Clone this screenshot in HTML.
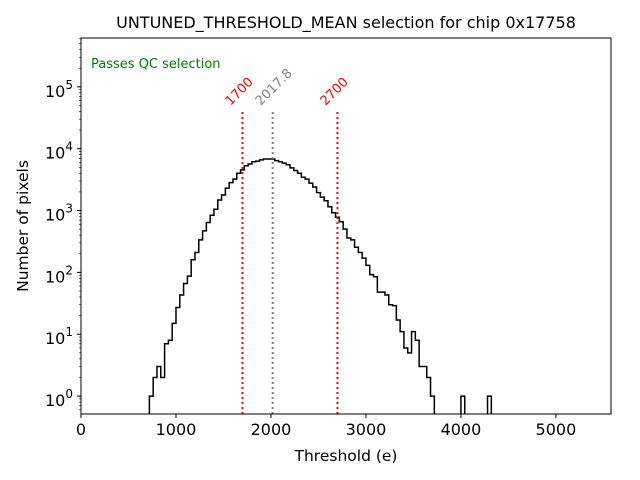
<!DOCTYPE html>
<html><head><meta charset="utf-8"><style>
body{margin:0;background:#fff}
svg{display:block;font-family:"DejaVu Sans","Liberation Sans",sans-serif}
</style></head><body>
<svg id="chart" width="640" height="480"></svg>
<script>
const binStart = 720;
const binWidth = 40;
const counts = [1,2,3,2,7,8,15,27,43,66,87,160,210,335,470,640,840,1050,1480,1780,2300,2830,3220,4000,4550,5300,5650,6150,6300,6600,6800,6800,
6800,6400,6150,5850,5500,4900,4450,4000,3450,3220,2770,2400,1950,1650,1440,1150,920,780,660,500,360,335,255,210,170,130,92,85,48,48,43,30,29,17,11,6,5,11,8,3,3,2,1];
const outlierBins = [4000,4280];
const outlierCounts = [1,1];
const xTicks = [0,1000,2000,3000,4000,5000];
const yTickExps = [0,1,2,3,4,5];
const markerValues = [1700,2017.8,2700];
const markerLabels = ["1700","2017.8","2700"];
const markerColors = ["red","gray","red"];

const L=81,R=611,T=38,B=414;
const xmin=0,xmax=5580, lmin=-0.29, lmax=5.79;
const sx=v=>L+(v-xmin)/(xmax-xmin)*(R-L);
const sy=v=>B-(Math.log10(v)-lmin)/(lmax-lmin)*(B-T);
const svg=document.getElementById('chart');
const NS='http://www.w3.org/2000/svg';
function mk(tag,attrs,parent){const e=document.createElementNS(NS,tag);for(const k in attrs)e.setAttribute(k,attrs[k]);(parent||svg).appendChild(e);return e;}

let t=mk('text',{x:346,y:28,'text-anchor':'middle','font-size':16});
t.textContent='UNTUNED_THRESHOLD_MEAN selection for chip 0x17758';



let d='M'+sx(binStart)+','+B;
counts.forEach((c,i)=>{const x0=sx(binStart+i*binWidth),x1=sx(binStart+(i+1)*binWidth),y=sy(c);d+=' L'+x0+','+y+' L'+x1+','+y;});
d+=' L'+sx(binStart+counts.length*binWidth)+','+B;
let p=mk('path',{d:d,fill:'none',stroke:'#000','stroke-width':1.5});


outlierBins.forEach((b,i)=>{
 const x0=sx(b),x1=sx(b+binWidth),y=sy(outlierCounts[i]);
 let q=mk('path',{d:`M${x0},${B} L${x0},${y} L${x1},${y} L${x1},${B}`,fill:'none',stroke:'#000','stroke-width':1.5});
 
 
});

markerValues.forEach((v,i)=>{
 const x=sx(v);
 let l=mk('line',{x1:x,x2:x,y1:B,y2:112,stroke:markerColors[i],'stroke-width':2,'stroke-dasharray':'2,3'});
 
 
 let tx=mk('text',{x:x-12,y:106,fill:markerColors[i],'font-size':13,transform:`rotate(-45 ${x-12} 106)`});
 tx.textContent=markerLabels[i];
 
 
});

let fr=mk('rect',{x:L,y:T,width:R-L,height:B-T,fill:'none',stroke:'#000','stroke-width':1});



xTicks.forEach(v=>{
 const x=sx(v);
 mk('line',{x1:x,x2:x,y1:B,y2:B+4,stroke:'#000'});
 let tx=mk('text',{x:x,y:B+21,'text-anchor':'middle','font-size':16});
 tx.textContent=v;
 
 
});
yTickExps.forEach(e=>{
 const y=sy(Math.pow(10,e));
 mk('line',{x1:L-4,x2:L,y1:y,y2:y,stroke:'#000'});
 let tx=mk('text',{x:L-8,y:y+10,'text-anchor':'end','font-size':16});
 tx.textContent='10';
 let s=mk('tspan',{dy:-8,'font-size':12},tx);s.textContent=e;
 
 
 for(let k=2;k<10;k++){const yy=sy(k*Math.pow(10,e));if(yy>T&&yy<B)mk('line',{x1:L-2,x2:L,y1:yy,y2:yy,stroke:'#000','stroke-width':0.6});}
});
[0.6,0.7,0.8,0.9].forEach(v=>{const yy=sy(v);if(yy<B)mk('line',{x1:L-2,x2:L,y1:yy,y2:yy,stroke:'#000','stroke-width':0.6});});

let xl=mk('text',{x:346,y:461,'text-anchor':'middle','font-size':15.5});
xl.textContent='Threshold (e)';


let yl=mk('text',{x:28,y:226,'text-anchor':'middle','font-size':15.5,transform:'rotate(-90 28 226)'});
yl.textContent='Number of pixels';


let qc=mk('text',{x:91,y:68,fill:'green','font-size':13});
qc.textContent='Passes QC selection';


</script>
</body></html>
